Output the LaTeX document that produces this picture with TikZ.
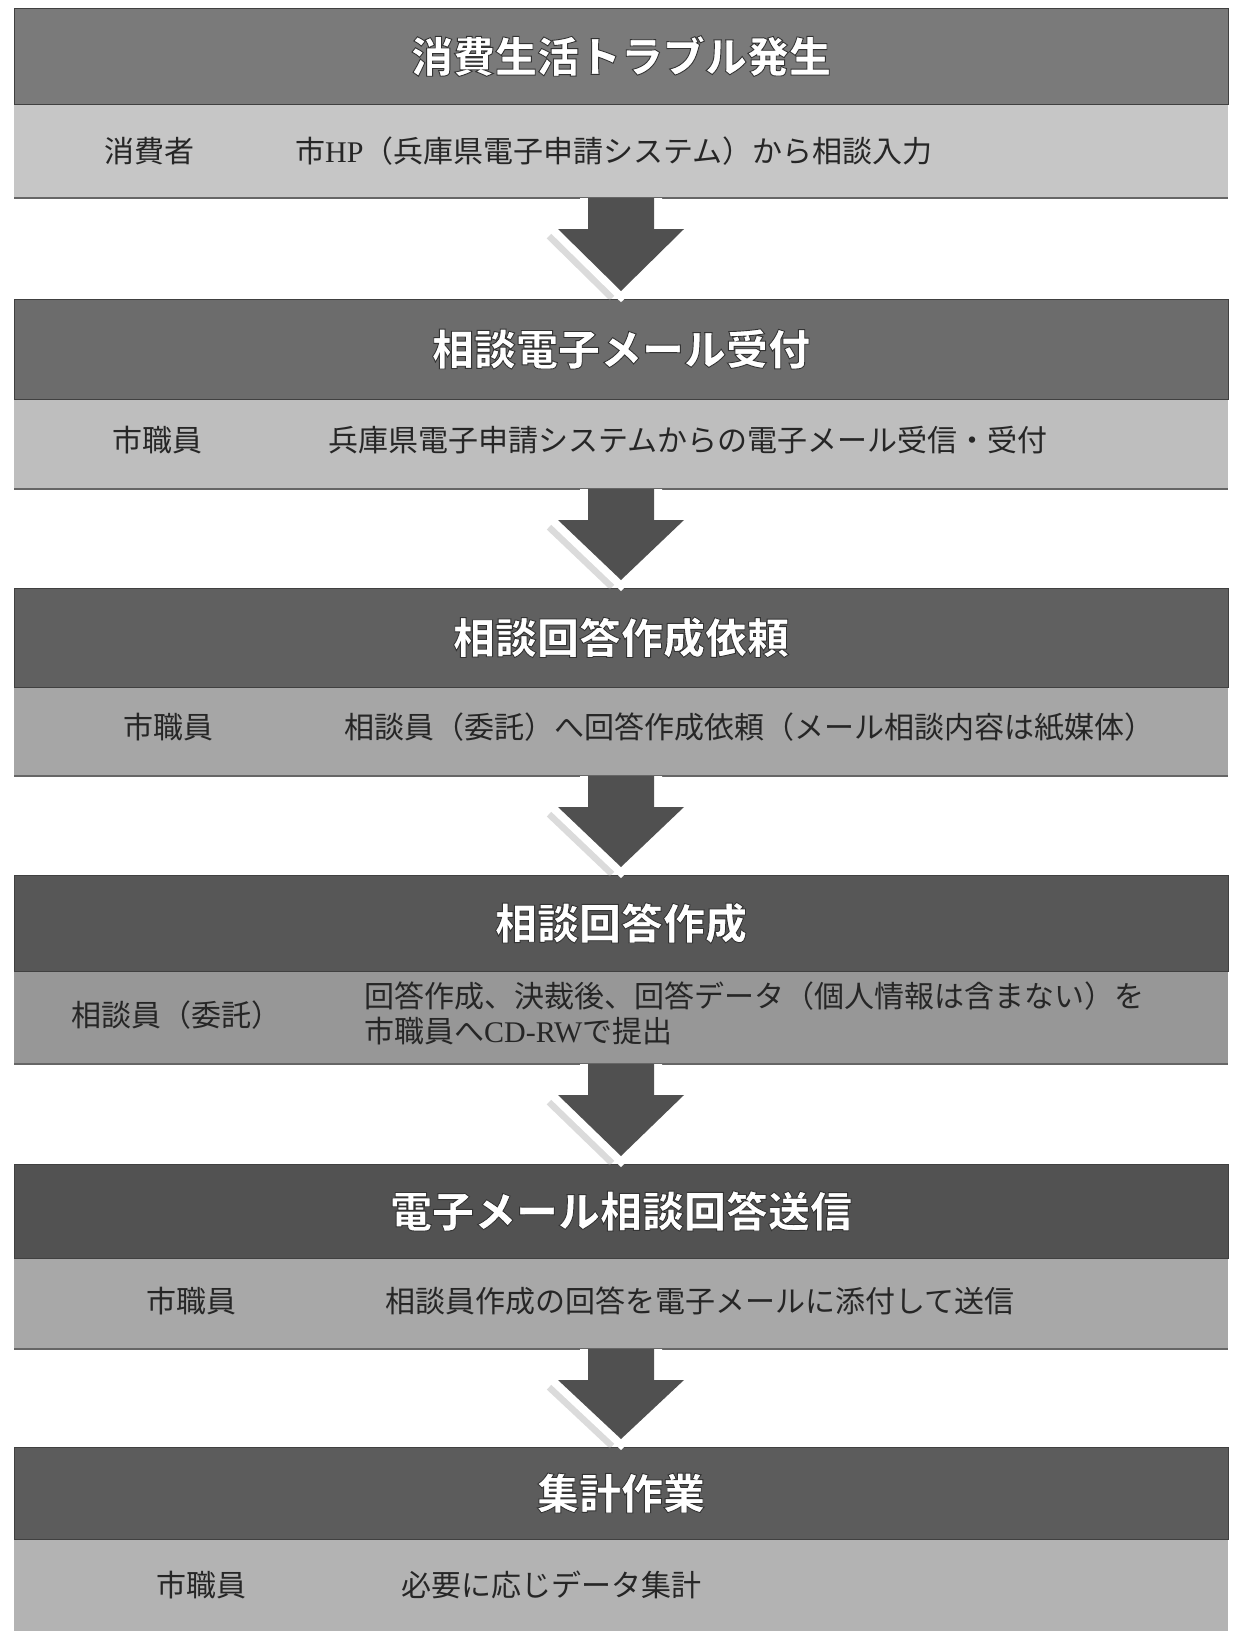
\documentclass[tikz,border=0pt]{standalone}
\usepackage{fontspec}
\setmainfont{Noto Sans CJK JP}
\newfontfamily\latin{Liberation Serif}
\usetikzlibrary{calc}
\definecolor{hdA}{HTML}{7A7A7A}
\definecolor{hdB}{HTML}{6C6C6C}
\definecolor{hdC}{HTML}{606060}
\definecolor{hdD}{HTML}{575757}
\definecolor{hdE}{HTML}{525252}
\definecolor{hdF}{HTML}{5C5C5C}
\definecolor{bdA}{HTML}{C6C6C6}
\definecolor{bdB}{HTML}{BEBEBE}
\definecolor{bdC}{HTML}{A6A6A6}
\definecolor{bdD}{HTML}{979797}
\definecolor{bdE}{HTML}{A8A8A8}
\definecolor{bdF}{HTML}{B3B3B3}
\definecolor{arrowfill}{HTML}{505050}
\definecolor{btext}{HTML}{262626}
% white text with a thin dark outline (PDF text render mode 2: fill + stroke)
\newcommand\otext[1]{{\bfseries\color{white}\special{pdf:literal direct 0.2 G 0.9 w 2 Tr}#1\special{pdf:literal direct 0 Tr}}}
\newcommand\flowarrow[2]{%
  \draw[arrowshade] ($(#1.south)+(-63-5,31+3)$) -- ($(#2.north)+(-5,-8+3)$);
  \draw[arrowedge] ($(#1.south)+(-33,0)$) -- ($(#1.south)+(-33,31)$) -- ($(#1.south)+(-63,31)$) -- ($(#2.north)+(0,-8)$) -- ($(#1.south)+(63,31)$) -- ($(#1.south)+(33,31)$) -- ($(#1.south)+(33,0)$);
  \fill[arrowfill] ($(#1.south)+(-33,0)$) -- ($(#1.south)+(-33,31)$) -- ($(#1.south)+(-63,31)$) -- ($(#2.north)+(0,-8)$) -- ($(#1.south)+(63,31)$) -- ($(#1.south)+(33,31)$) -- ($(#1.south)+(33,0)$) -- cycle;
}
\begin{document}
\begin{tikzpicture}[x=1pt,y=-1pt,
  hdr/.style={rectangle, minimum width=1214pt, inner sep=0pt, outer sep=0pt,
    draw=black!75, line width=0.8pt, font=\fontsize{42}{46}\selectfont},
  band/.style={rectangle, minimum width=1214pt, inner sep=0pt, outer sep=0pt},
  who/.style={anchor=west, inner sep=0pt, text=btext, font=\fontsize{30}{34}\selectfont},
  what/.style={anchor=west, inner sep=0pt, text=btext, align=left, font=\fontsize{30}{35}\selectfont},
  bandline/.style={draw=black!60, line width=2.5pt},
  arrowedge/.style={draw=white, line width=16pt, line join=miter, miter limit=10, line cap=butt},
  arrowshade/.style={draw=black!40, line width=18pt, line cap=butt, opacity=0.35}]
\useasboundingbox (0,0) rectangle (1239,1633);
\fill[white] (0,0) rectangle (1239,1633);

% blocks
\node[band, fill=bdA, minimum height=94pt] (b1) at (621,151) {};
\node[hdr, fill=hdA, minimum height=96pt] (h1) at (621,56) {\otext{消費生活トラブル発生}};
\node[band, fill=bdB, minimum height=90pt] (b2) at (621,444) {};
\node[hdr, fill=hdB, minimum height=100pt] (h2) at (621,349) {\otext{相談電子メール受付}};
\node[band, fill=bdC, minimum height=89pt] (b3) at (621,731.5) {};
\node[hdr, fill=hdC, minimum height=99pt] (h3) at (621,637.5) {\otext{相談回答作成依頼}};
\node[band, fill=bdD, minimum height=93pt] (b4) at (621,1017.5) {};
\node[hdr, fill=hdD, minimum height=96pt] (h4) at (621,923) {\otext{相談回答作成}};
\node[band, fill=bdE, minimum height=91pt] (b5) at (621,1303.5) {};
\node[hdr, fill=hdE, minimum height=94pt] (h5) at (621,1211) {\otext{電子メール相談回答送信}};
\node[band, fill=bdF, minimum height=92pt] (b6) at (621,1585) {};
\node[hdr, fill=hdF, minimum height=92pt] (h6) at (621,1493) {\otext{集計作業}};

\foreach \b in {b1,b2,b3,b4,b5}{\draw[bandline] (\b.south west) -- (\b.south east);}

% band texts
\node[who] (w1) at (104,151) {消費者};
\node[what] (t1) at (295,151) {市{\latin HP}（兵庫県電子申請システム）から相談入力};
\node[who] (w2) at (112,440) {市職員};
\node[what] (t2) at (328,440) {兵庫県電子申請システムからの電子メール受信・受付};
\node[who] (w3) at (123,727) {市職員};
\node[what] (t3) at (344,727) {相談員（委託）へ回答作成依頼（メール相談内容は紙媒体）};
\node[who] (w4) at (71,1015) {相談員（委託）};
\node[what] (t4) at (364,1013.5) {回答作成、決裁後、回答データ（個人情報は含まない）を\\市職員へ{\latin CD-RW}で提出};
\node[who] (w5) at (146,1301) {市職員};
\node[what] (t5) at (385,1301) {相談員作成の回答を電子メールに添付して送信};
\node[who] (w6) at (156,1585) {市職員};
\node[what] (t6) at (401,1585) {必要に応じデータ集計};

% arrows
\flowarrow{b1}{h2}
\flowarrow{b2}{h3}
\flowarrow{b3}{h4}
\flowarrow{b4}{h5}
\flowarrow{b5}{h6}
\end{tikzpicture}
\end{document}
